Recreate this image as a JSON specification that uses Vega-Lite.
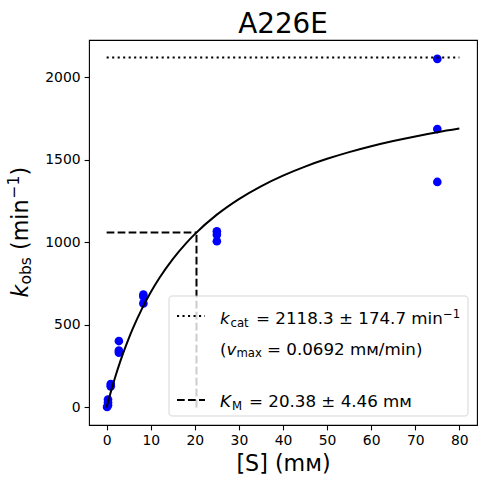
{
  "$schema": "https://vega.github.io/schema/vega-lite/v6.json",
  "width": 388,
  "height": 385,
  "autosize": {"type": "none"},
  "padding": {"left": 89, "top": 40, "right": 9, "bottom": 59},
  "background": "white",
  "config": {
    "view": {"stroke": "black", "strokeWidth": 1.1},
    "font": "DejaVu Sans",
    "axis": {
      "domain": false,
      "grid": false,
      "labelFont": "DejaVu Sans",
      "labelFontSize": 13.9,
      "labelColor": "black",
      "tickColor": "black",
      "tickSize": 4.9,
      "tickWidth": 1.1,
      "labelPadding": 4,
      "format": "d"
    }
  },
  "datasets": {
    "obs": [
      {"S": 0.103, "k": 3},
      {"S": 0.309, "k": 48},
      {"S": 0.309, "k": 30},
      {"S": 0.309, "k": 14},
      {"S": 0.926, "k": 142},
      {"S": 0.926, "k": 128},
      {"S": 2.78, "k": 402},
      {"S": 2.78, "k": 345},
      {"S": 2.78, "k": 332},
      {"S": 8.33, "k": 683},
      {"S": 8.33, "k": 672},
      {"S": 8.33, "k": 630},
      {"S": 25, "k": 1066},
      {"S": 25, "k": 1046},
      {"S": 25, "k": 1006},
      {"S": 75, "k": 2110},
      {"S": 75, "k": 1685},
      {"S": 75, "k": 1365}
    ],
    "fit": [
      {"S": 0, "k": 0},
      {"S": 0.5, "k": 50.7},
      {"S": 1, "k": 99.1},
      {"S": 2, "k": 189.3},
      {"S": 3, "k": 271.8},
      {"S": 4, "k": 347.5},
      {"S": 5, "k": 417.3},
      {"S": 6, "k": 481.8},
      {"S": 8, "k": 597.1},
      {"S": 10, "k": 697.3},
      {"S": 12, "k": 785.0},
      {"S": 15, "k": 898.1},
      {"S": 18, "k": 993.5},
      {"S": 20, "k": 1049.2},
      {"S": 25, "k": 1167.0},
      {"S": 30, "k": 1261.4},
      {"S": 35, "k": 1338.8},
      {"S": 40, "k": 1403.3},
      {"S": 45, "k": 1458.0},
      {"S": 50, "k": 1504.9},
      {"S": 55, "k": 1545.6},
      {"S": 60, "k": 1581.2},
      {"S": 65, "k": 1612.7},
      {"S": 70, "k": 1640.6},
      {"S": 75, "k": 1665.7},
      {"S": 80, "k": 1688.2}
    ],
    "kcat": [{"S": 0, "S2": 80, "k": 2118.3, "k2": 2118.3}],
    "km": [
      {"S": 0, "S2": 20.38, "k": 1059.15, "k2": 1059.15},
      {"S": 20.38, "S2": 20.38, "k": 0, "k2": 1059.15}
    ],
    "one": [{}]
  },
  "layer": [
    {
      "data": {"name": "obs"},
      "mark": {"type": "point", "filled": true, "size": 75, "opacity": 1, "color": "#0000ff"},
      "encoding": {
        "x": {
          "field": "S",
          "type": "quantitative",
          "scale": {"domain": [-4, 84], "nice": false, "zero": false},
          "axis": {
            "values": [0, 10, 20, 30, 40, 50, 60, 70, 80],
            "title": "[S] (mᴍ)",
            "titleFont": "DejaVu Sans",
            "titleFontSize": 22.2,
            "titleFontWeight": "normal",
            "titleColor": "black",
            "titleBaseline": "alphabetic",
            "titleY": 45
          }
        },
        "y": {
          "field": "k",
          "type": "quantitative",
          "scale": {"domain": [-106, 2224], "nice": false, "zero": false},
          "axis": {"values": [0, 500, 1000, 1500, 2000], "title": null}
        }
      }
    },
    {
      "data": {"name": "fit"},
      "mark": {"type": "line", "color": "black", "strokeWidth": 2, "interpolate": "monotone"},
      "encoding": {
        "x": {"field": "S", "type": "quantitative"},
        "y": {"field": "k", "type": "quantitative"}
      }
    },
    {
      "data": {"name": "kcat"},
      "mark": {"type": "rule", "color": "black", "strokeWidth": 2, "strokeDash": [2.1, 3.4]},
      "encoding": {
        "x": {"field": "S", "type": "quantitative"},
        "x2": {"field": "S2"},
        "y": {"field": "k", "type": "quantitative"},
        "y2": {"field": "k2"}
      }
    },
    {
      "data": {"name": "km"},
      "mark": {"type": "rule", "color": "black", "strokeWidth": 2, "strokeDash": [7.7, 3.3]},
      "encoding": {
        "x": {"field": "S", "type": "quantitative"},
        "x2": {"field": "S2"},
        "y": {"field": "k", "type": "quantitative"},
        "y2": {"field": "k2"}
      }
    },
    {
      "data": {"name": "one"},
      "mark": {"type": "rect", "fill": "white", "fillOpacity": 0.8, "stroke": "#cccccc", "strokeOpacity": 0.8, "strokeWidth": 1, "cornerRadius": 3},
      "encoding": {"x": {"value": 80}, "x2": {"value": 379}, "y": {"value": 256}, "y2": {"value": 376}}
    },
    {
      "data": {"name": "one"},
      "mark": {"type": "rule", "color": "black", "strokeWidth": 2, "strokeDash": [2.1, 3.4]},
      "encoding": {"x": {"value": 88}, "x2": {"value": 116}, "y": {"value": 276}}
    },
    {
      "data": {"name": "one"},
      "mark": {"type": "rule", "color": "black", "strokeWidth": 2, "strokeDash": [7.7, 3.3]},
      "encoding": {"x": {"value": 88}, "x2": {"value": 116}, "y": {"value": 360}}
    },
    {
      "data": {"name": "one"},
      "mark": {"type": "text", "align": "center", "baseline": "alphabetic", "fontSize": 27.8, "color": "black"},
      "encoding": {"x": {"value": 194}, "y": {"value": -7.5}, "text": {"value": "A226E"}}
    },
    {
      "data": {"name": "one"},
      "mark": {"type": "text", "align": "left", "baseline": "alphabetic", "fontSize": 16.7, "fontStyle": "italic", "color": "black"},
      "encoding": {"x": {"value": 131}, "y": {"value": 284}, "text": {"value": "k"}}
    },
    {
      "data": {"name": "one"},
      "mark": {"type": "text", "align": "left", "baseline": "alphabetic", "fontSize": 11.7, "dx": 10.5, "dy": 2.5, "color": "black"},
      "encoding": {"x": {"value": 131}, "y": {"value": 284}, "text": {"value": "cat"}}
    },
    {
      "data": {"name": "one"},
      "mark": {"type": "text", "align": "left", "baseline": "alphabetic", "fontSize": 16.7, "dx": 36, "color": "black"},
      "encoding": {"x": {"value": 131}, "y": {"value": 284}, "text": {"value": "= 2118.3 ± 174.7 min"}}
    },
    {
      "data": {"name": "one"},
      "mark": {"type": "text", "align": "left", "baseline": "alphabetic", "fontSize": 11.7, "dx": 223, "dy": -6, "color": "black"},
      "encoding": {"x": {"value": 131}, "y": {"value": 284}, "text": {"value": "−1"}}
    },
    {
      "data": {"name": "one"},
      "mark": {"type": "text", "align": "left", "baseline": "alphabetic", "fontSize": 16.7, "color": "black"},
      "encoding": {"x": {"value": 131}, "y": {"value": 314.5}, "text": {"value": "("}}
    },
    {
      "data": {"name": "one"},
      "mark": {"type": "text", "align": "left", "baseline": "alphabetic", "fontSize": 16.7, "fontStyle": "italic", "dx": 6.5, "color": "black"},
      "encoding": {"x": {"value": 131}, "y": {"value": 314.5}, "text": {"value": "v"}}
    },
    {
      "data": {"name": "one"},
      "mark": {"type": "text", "align": "left", "baseline": "alphabetic", "fontSize": 11.7, "dx": 16.4, "dy": 2.5, "color": "black"},
      "encoding": {"x": {"value": 131}, "y": {"value": 314.5}, "text": {"value": "max"}}
    },
    {
      "data": {"name": "one"},
      "mark": {"type": "text", "align": "left", "baseline": "alphabetic", "fontSize": 16.7, "dx": 47, "color": "black"},
      "encoding": {"x": {"value": 131}, "y": {"value": 314.5}, "text": {"value": "= 0.0692 mᴍ/min)"}}
    },
    {
      "data": {"name": "one"},
      "mark": {"type": "text", "align": "left", "baseline": "alphabetic", "fontSize": 16.7, "fontStyle": "italic", "color": "black"},
      "encoding": {"x": {"value": 131}, "y": {"value": 367}, "text": {"value": "K"}}
    },
    {
      "data": {"name": "one"},
      "mark": {"type": "text", "align": "left", "baseline": "alphabetic", "fontSize": 11.7, "dx": 12, "dy": 2.5, "color": "black"},
      "encoding": {"x": {"value": 131}, "y": {"value": 367}, "text": {"value": "M"}}
    },
    {
      "data": {"name": "one"},
      "mark": {"type": "text", "align": "left", "baseline": "alphabetic", "fontSize": 16.7, "dx": 29, "color": "black"},
      "encoding": {"x": {"value": 131}, "y": {"value": 367}, "text": {"value": "= 20.38 ± 4.46 mᴍ"}}
    },
    {
      "data": {"name": "one"},
      "mark": {"type": "text", "align": "left", "baseline": "alphabetic", "angle": 270, "fontSize": 22.2, "fontStyle": "italic", "color": "black"},
      "encoding": {"x": {"value": -61}, "y": {"value": 257.5}, "text": {"value": "k"}}
    },
    {
      "data": {"name": "one"},
      "mark": {"type": "text", "align": "left", "baseline": "alphabetic", "angle": 270, "fontSize": 15.5, "dx": 13, "dy": 3, "color": "black"},
      "encoding": {"x": {"value": -61}, "y": {"value": 257.5}, "text": {"value": "obs"}}
    },
    {
      "data": {"name": "one"},
      "mark": {"type": "text", "align": "left", "baseline": "alphabetic", "angle": 270, "fontSize": 22.2, "dx": 47.5, "color": "black"},
      "encoding": {"x": {"value": -61}, "y": {"value": 257.5}, "text": {"value": "(min"}}
    },
    {
      "data": {"name": "one"},
      "mark": {"type": "text", "align": "left", "baseline": "alphabetic", "angle": 270, "fontSize": 15.5, "dx": 99, "dy": -9, "color": "black"},
      "encoding": {"x": {"value": -61}, "y": {"value": 257.5}, "text": {"value": "−1"}}
    },
    {
      "data": {"name": "one"},
      "mark": {"type": "text", "align": "left", "baseline": "alphabetic", "angle": 270, "fontSize": 22.2, "dx": 122, "color": "black"},
      "encoding": {"x": {"value": -61}, "y": {"value": 257.5}, "text": {"value": ")"}}
    }
  ]
}
